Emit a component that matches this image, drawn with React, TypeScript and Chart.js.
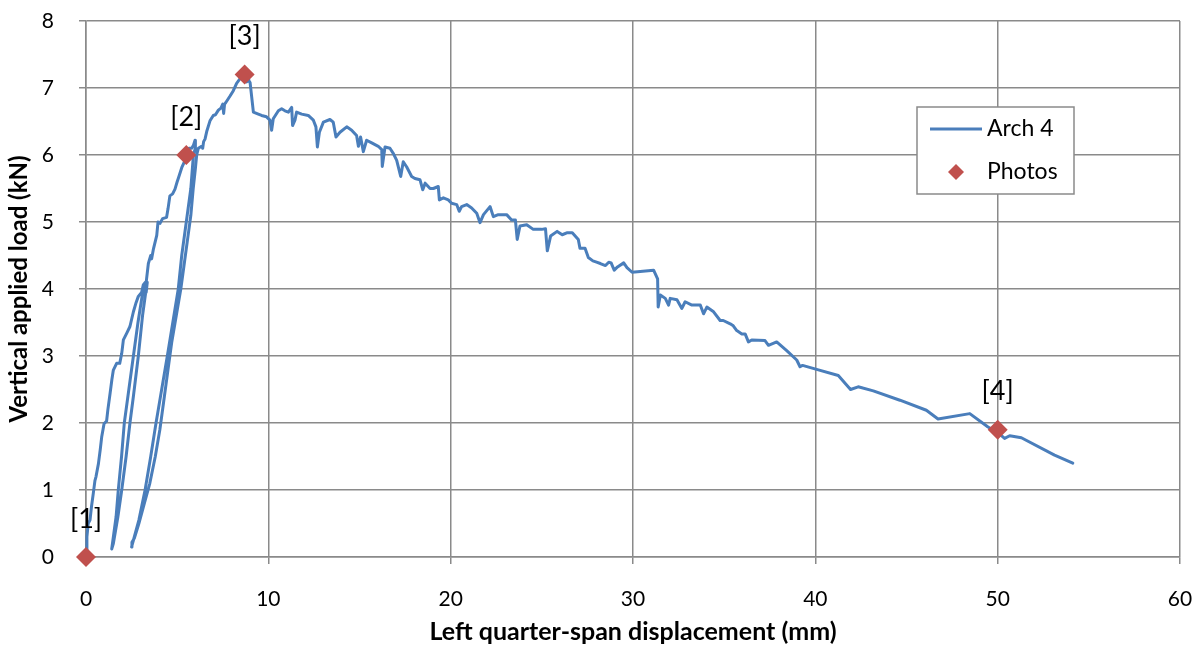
import { useEffect, useRef } from "react";
import { Chart, registerables } from "chart.js";

Chart.register(...registerables);

const FONT = "Lato, 'Open Sans', 'DejaVu Sans', sans-serif";
const LINE_COLOR = "#4a7ebb";
const MARKER_COLOR = "#c0504d";
const GRID_COLOR = "#8a8a8a";

// Axis ranges and labels
const X_MIN = 0;
const X_MAX = 60;
const X_STEP = 10;
const Y_MIN = 0;
const Y_MAX = 8;
const Y_STEP = 1;
const X_TITLE = "Left quarter-span displacement (mm)";
const Y_TITLE = "Vertical applied load (kN)";
const SERIES_NAME = "Arch 4";
const PHOTO_NAME = "Photos";

// Load–displacement trace of Arch 4, [displacement (mm), load (kN)], split by test phase
const initialLoading: [number, number][] = [
  [0, 0], [0.05, 0.3], [0.12, 0.5], [0.22, 0.55], [0.3, 0.75], [0.4, 0.95], [0.49, 1.14],
  [0.55, 1.2], [0.68, 1.39], [0.78, 1.6], [0.86, 1.79], [0.99, 1.99], [1.13, 2.03],
  [1.2, 2.2], [1.32, 2.44], [1.42, 2.65], [1.5, 2.79], [1.68, 2.89], [1.85, 2.89], [1.96, 3.04],
  [2.05, 3.24], [2.25, 3.35], [2.41, 3.44], [2.6, 3.66], [2.75, 3.8], [2.87, 3.89], [3.05, 3.95],
  [3.14, 4.06], [3.25, 4.1], [3.3, 3.95], [3.36, 4.1],
];

const firstCycle: [number, number][] = [
  [3.3, 4.0], [3.1, 3.6], [2.87, 3.0], [2.6, 2.4], [2.41, 2.0], [2.2, 1.5], [1.96, 1.0],
  [1.75, 0.6], [1.5, 0.2], [1.41, 0.12], [1.5, 0.3], [1.65, 0.6], [1.77, 1.0], [1.95, 1.5],
  [2.1, 2.0], [2.35, 2.5], [2.6, 3.0], [2.85, 3.5], [3.14, 4.0], [3.3, 4.1],
];

const secondLoading: [number, number][] = [
  [3.42, 4.38], [3.55, 4.5], [3.6, 4.45], [3.7, 4.6], [3.88, 4.8], [3.95, 5.0],
  [4.06, 4.98], [4.2, 5.05], [4.42, 5.07], [4.5, 5.2], [4.6, 5.39], [4.75, 5.42], [4.88, 5.49],
  [5.0, 5.6], [5.06, 5.65], [5.25, 5.81], [5.4, 5.9], [5.48, 6.0], [5.65, 6.1], [5.8, 6.1],
  [5.9, 6.15], [5.98, 6.22],
];

const secondCycle: [number, number][] = [
  [6.0, 6.1], [5.89, 6.0], [5.75, 5.5], [5.5, 5.0], [5.25, 4.5], [5.06, 4.0], [4.76, 3.5],
  [4.46, 3.0], [4.15, 2.5], [3.84, 2.0], [3.55, 1.5], [3.24, 1.0], [2.9, 0.55], [2.6, 0.25],
  [2.5, 0.15], [2.52, 0.22], [2.65, 0.28], [2.9, 0.5], [3.2, 0.8], [3.5, 1.1], [3.8, 1.5],
  [4.05, 1.9], [4.3, 2.4], [4.5, 2.8], [4.7, 3.2], [4.95, 3.6], [5.2, 4.0], [5.4, 4.4],
  [5.6, 4.8], [5.75, 5.1], [5.88, 5.5], [6.0, 5.8], [6.07, 6.0], [6.16, 6.1],
];

const peakAndSoftening: [number, number][] = [
  [6.34, 6.13], [6.4, 6.1], [6.45, 6.2], [6.53, 6.24], [6.62, 6.35], [6.8, 6.51], [6.98, 6.59],
  [7.1, 6.6], [7.26, 6.67], [7.4, 6.7], [7.5, 6.76], [7.55, 6.62], [7.6, 6.76], [7.66, 6.78],
  [7.9, 6.88], [8.08, 6.96], [8.26, 7.07], [8.4, 7.12], [8.54, 7.17], [8.65, 7.2], [8.81, 7.09],
  [8.9, 7.15], [8.95, 7.1], [9.0, 7.08], [9.18, 6.64], [9.45, 6.61], [9.63, 6.59], [9.9, 6.57],
  [10.09, 6.52], [10.18, 6.37], [10.27, 6.54], [10.55, 6.66], [10.73, 6.69], [10.91, 6.66],
  [11.1, 6.64], [11.28, 6.71], [11.33, 6.44], [11.46, 6.52], [11.55, 6.64], [11.83, 6.61],
  [12.19, 6.59], [12.47, 6.52], [12.61, 6.42], [12.69, 6.12], [12.8, 6.34], [13.02, 6.49],
  [13.38, 6.53], [13.56, 6.49], [13.71, 6.27], [13.93, 6.34], [14.3, 6.42], [14.57, 6.37],
  [14.84, 6.29], [14.94, 6.13], [15.06, 6.27], [15.21, 6.05], [15.39, 6.22], [15.67, 6.18],
  [16.03, 6.13], [16.22, 6.08], [16.25, 5.83], [16.4, 6.12], [16.67, 6.1], [16.86, 6.02],
  [17.04, 5.92], [17.26, 5.68], [17.4, 5.9], [17.59, 5.82], [17.86, 5.68], [18.04, 5.65],
  [18.32, 5.63], [18.47, 5.48], [18.6, 5.58], [18.87, 5.5], [19.05, 5.5], [19.32, 5.53],
  [19.38, 5.33], [19.6, 5.36], [19.87, 5.33], [20.05, 5.28], [20.33, 5.26], [20.47, 5.16],
  [20.6, 5.23], [20.88, 5.26], [21.15, 5.21], [21.43, 5.13], [21.61, 4.99], [21.8, 5.11],
  [22.16, 5.23], [22.34, 5.08], [22.61, 5.11], [23.07, 5.11], [23.34, 5.03], [23.55, 5.03],
  [23.65, 4.74], [23.8, 4.94], [24.17, 4.96], [24.53, 4.89], [24.99, 4.89], [25.2, 4.9],
  [25.3, 4.57], [25.48, 4.79], [25.84, 4.86], [26.12, 4.81], [26.4, 4.84], [26.67, 4.84],
  [27.0, 4.74], [27.09, 4.61], [27.37, 4.61], [27.55, 4.47],
];

const residualBranch: [number, number][] = [
  [27.8, 4.42], [28.0, 4.4], [28.21, 4.38], [28.49, 4.35], [28.67, 4.4], [28.8, 4.39],
  [28.97, 4.28], [29.15, 4.33], [29.49, 4.39], [29.67, 4.32], [29.95, 4.25], [31.13, 4.28],
  [31.35, 4.15], [31.38, 3.73], [31.5, 3.91], [31.77, 3.86], [31.95, 3.76], [32.04, 3.86],
  [32.41, 3.84], [32.68, 3.71], [32.86, 3.81], [33.23, 3.76], [33.69, 3.76], [33.87, 3.63],
  [34.05, 3.73], [34.42, 3.66], [34.78, 3.53], [34.95, 3.53], [35.33, 3.48], [35.5, 3.45],
  [35.69, 3.38], [35.97, 3.33], [36.15, 3.33], [36.33, 3.21], [36.51, 3.24], [37.24, 3.23],
  [37.43, 3.16], [37.88, 3.21], [38.43, 3.08], [38.98, 2.94], [39.16, 2.84], [39.3, 2.86],
  [40.07, 2.8], [41.26, 2.71], [41.93, 2.5], [42.35, 2.54], [43.18, 2.48], [44.64, 2.34],
  [46.09, 2.19], [46.73, 2.06], [48.47, 2.14], [49.47, 1.94], [50.0, 1.86], [50.38, 1.77],
  [50.66, 1.81], [51.3, 1.78], [53.12, 1.52], [54.12, 1.4],
];

// Photo points
const photoDisp = [0, 5.5, 8.7, 50];
const photoLoad = [0, 6.0, 7.2, 1.9];
const photoTags = ["[1]", "[2]", "[3]", "[4]"];

const trace = [
  ...initialLoading,
  ...firstCycle,
  ...secondLoading,
  ...secondCycle,
  ...peakAndSoftening,
  ...residualBranch,
].map(([x, y]) => ({ x, y }));

const photos = photoDisp.map((x, i) => ({ x, y: photoLoad[i] }));

// Draws the photo tags above their markers and the boxed legend
const overlayPlugin = {
  id: "overlay",
  afterDatasetsDraw(chart: Chart) {
    const ctx = chart.ctx;
    const xs = chart.scales.x;
    const ys = chart.scales.y;
    ctx.save();
    ctx.fillStyle = "#000";
    ctx.font = `27px ${FONT}`;
    ctx.textAlign = "center";
    ctx.textBaseline = "middle";
    photos.forEach((p, i) => {
      ctx.fillText(photoTags[i], xs.getPixelForValue(p.x), ys.getPixelForValue(p.y) - 38);
    });

    // legend box
    const bx = 917;
    const by = 107;
    const bw = 157;
    const bh = 87;
    ctx.fillStyle = "#fff";
    ctx.fillRect(bx, by, bw, bh);
    ctx.strokeStyle = GRID_COLOR;
    ctx.lineWidth = 1.5;
    ctx.strokeRect(bx, by, bw, bh);

    ctx.strokeStyle = LINE_COLOR;
    ctx.lineWidth = 3;
    ctx.beginPath();
    ctx.moveTo(930, 129);
    ctx.lineTo(982, 129);
    ctx.stroke();

    ctx.fillStyle = MARKER_COLOR;
    const r = 8;
    ctx.beginPath();
    ctx.moveTo(956, 172 - r);
    ctx.lineTo(956 + r, 172);
    ctx.lineTo(956, 172 + r);
    ctx.lineTo(956 - r, 172);
    ctx.closePath();
    ctx.fill();

    ctx.fillStyle = "#000";
    ctx.font = `23px ${FONT}`;
    ctx.textAlign = "left";
    ctx.fillText(SERIES_NAME, 987, 129);
    ctx.fillText(PHOTO_NAME, 987, 172);
    ctx.restore();
  },
};

export default function App() {
  const canvasRef = useRef<HTMLCanvasElement | null>(null);

  useEffect(() => {
    const canvas = canvasRef.current;
    if (!canvas) return;
    const chart = new Chart(canvas, {
      type: "line",
      data: {
        datasets: [
          {
            label: PHOTO_NAME,
            data: photos,
            showLine: false,
            pointStyle: "rectRot",
            pointRadius: 10,
            pointBackgroundColor: MARKER_COLOR,
            pointBorderColor: MARKER_COLOR,
            pointBorderWidth: 0,
            clip: false,
            order: 0,
          },
          {
            label: SERIES_NAME,
            data: trace,
            borderColor: LINE_COLOR,
            borderWidth: 3,
            pointRadius: 0,
            tension: 0,
            fill: false,
            borderJoinStyle: "round",
            borderCapStyle: "round",
            clip: false,
            order: 1,
          },
        ],
      },
      options: {
        responsive: false,
        animation: false,
        devicePixelRatio: 1,
        layout: { padding: { left: 0, top: 21, right: 24, bottom: 0 } },
        plugins: {
          legend: { display: false },
          tooltip: { enabled: false },
        },
        scales: {
          x: {
            type: "linear",
            min: X_MIN,
            max: X_MAX,
            ticks: {
              stepSize: X_STEP,
              color: "#000",
              font: { family: FONT, size: 21 },
              padding: 23,
              maxRotation: 0,
            },
            grid: { color: GRID_COLOR, lineWidth: 1.5, tickLength: 7, tickColor: GRID_COLOR },
            border: { color: GRID_COLOR, width: 1.5 },
            title: {
              display: true,
              text: X_TITLE,
              color: "#000",
              font: { family: FONT, size: 25, weight: "bold" },
              padding: { top: 0, bottom: 1 },
            },
            afterFit: (scale: any) => {
              scale.height = 91;
              scale.paddingLeft = 0;
              scale.paddingRight = 0;
            },
          },
          y: {
            type: "linear",
            min: Y_MIN,
            max: Y_MAX,
            ticks: {
              stepSize: Y_STEP,
              color: "#000",
              font: { family: FONT, size: 21 },
              padding: 25,
            },
            grid: { color: GRID_COLOR, lineWidth: 1.5, tickLength: 7, tickColor: GRID_COLOR },
            border: { color: GRID_COLOR, width: 1.5 },
            title: {
              display: true,
              text: Y_TITLE,
              color: "#000",
              font: { family: FONT, size: 24, weight: "bold" },
              padding: { top: 5, bottom: 0 },
            },
            afterFit: (scale: any) => {
              scale.width = 86;
              scale.paddingTop = 0;
              scale.paddingBottom = 0;
            },
          },
        },
      },
      plugins: [overlayPlugin],
    });
    return () => chart.destroy();
  }, []);

  return (
    <div style={{ position: "fixed", left: 0, top: 0, width: 1204, height: 648, background: "#fff" }}>
      <canvas ref={canvasRef} width={1204} height={648} style={{ display: "block" }} />
    </div>
  );
}
